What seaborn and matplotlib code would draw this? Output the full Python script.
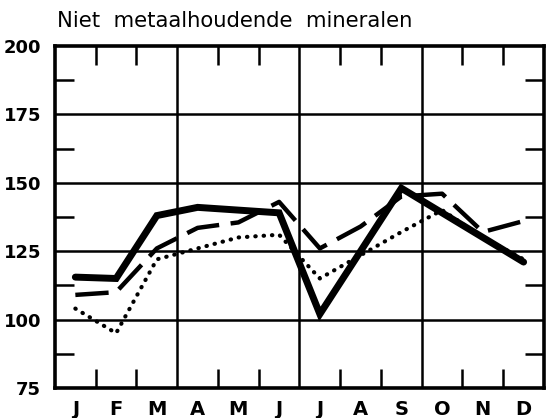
import numpy as np
import pandas as pd
import matplotlib
matplotlib.use("Agg")
import matplotlib.pyplot as plt
import seaborn as sns

# --- data ---
months = ["J", "F", "M", "A", "M", "J", "J", "A", "S", "O", "N", "D"]
solid_vals = [115.5, 115, 138, 141, 140, 139, 102, 125, 148, 139, 130, 121]
dashed_vals = [109, 110, 126, 133.5, 135.5, 143, 126, 134, 145, 146, 132, 136]
dotted_vals = [104, 95, 122, 126, 130, 131, 115, 123.5, 132, 140, 130, 122]
y_ticks = [75, 100, 125, 150, 175, 200]
title = "Niet  metaalhoudende  mineralen"

pos = np.arange(len(months)) + 0.5
df = pd.DataFrame({"pos": pos, "solid": solid_vals,
                   "dashed": dashed_vals, "dotted": dotted_vals})

sns.set_style("white")
plt.rcParams["font.family"] = ["DejaVu Sans"]
plt.rcParams["text.color"] = "black"

fig = plt.figure(figsize=(5.47, 4.18), dpi=100)
ax = fig.add_axes([0.1005, 0.072, 0.894, 0.818])

# grid: every 25 horizontally, per quarter vertically
for y in y_ticks[1:-1]:
    ax.axhline(y, color="black", lw=1.8, zorder=1)
for x in [3, 6, 9]:
    ax.axvline(x, color="black", lw=1.8, zorder=1)

sns.lineplot(data=df, x="pos", y="dotted", ax=ax, color="black", lw=3.0,
             linestyle=(0, (0.1, 1.9)), dash_capstyle="round", zorder=3)
sns.lineplot(data=df, x="pos", y="dashed", ax=ax, color="black", lw=3.2,
             linestyle=(0, (7.5, 2.6)), zorder=4)
sns.lineplot(data=df, x="pos", y="solid", ax=ax, color="black", lw=5.0,
             solid_joinstyle="miter", zorder=5)

ax.set_xlim(0, 12)
ax.set_ylim(75, 200)
ax.set_xlabel("")
ax.set_ylabel("")

for s in ax.spines.values():
    s.set_linewidth(2.6)
    s.set_color("black")

ax.set_xticks(pos)
ax.set_xticklabels(months, fontsize=14, fontweight="bold", color="black")
ax.set_xticks([1, 2, 4, 5, 7, 8, 10, 11], minor=True)
ax.set_yticks(y_ticks)
ax.set_yticklabels([str(v) for v in y_ticks], fontsize=13, fontweight="bold",
                   color="black")
ax.set_yticks([87.5, 112.5, 137.5, 162.5, 187.5], minor=True)

ax.tick_params(axis="x", which="major", length=0, pad=9)
ax.tick_params(axis="y", which="major", length=0, pad=10)
ax.tick_params(which="minor", direction="in", length=14, width=1.8,
               color="black", top=True, bottom=True, left=True, right=True)

fig.text(0.104, 0.95, title, fontsize=15.2, ha="left", va="center",
         color="black")

fig.savefig("out.png", dpi=100)
